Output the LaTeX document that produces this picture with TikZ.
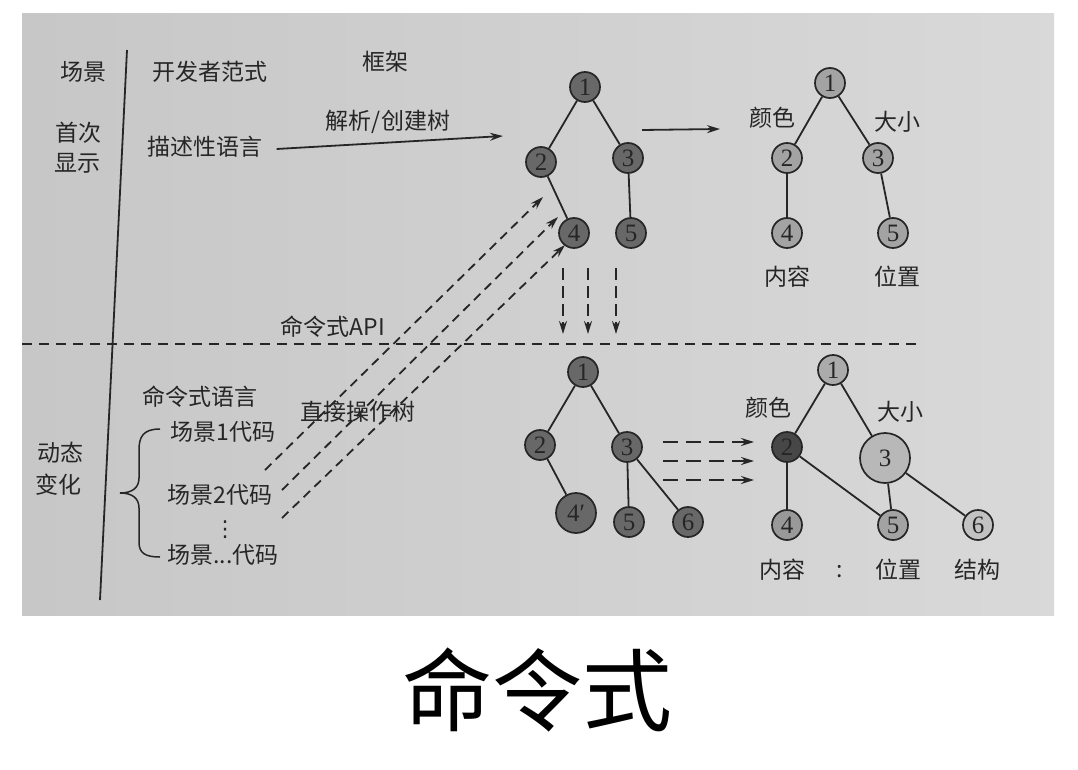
\documentclass[tikz,border=0pt]{standalone}
\usepackage{fontspec}
\newfontfamily\cjk{Noto Sans CJK SC}
\newfontfamily\dejavu{DejaVu Sans}
\newfontfamily\numf{Liberation Serif}
\usetikzlibrary{arrows.meta}
\definecolor{inkc}{HTML}{262626}
\definecolor{dkfill}{HTML}{686868}
\definecolor{ltfill}{HTML}{A3A3A3}
\begin{document}
\begin{tikzpicture}[x=1pt,y=-1pt,
  tn/.style={circle, draw=inkc, line width=1.7pt, minimum size=30pt, inner sep=0pt, font=\numf\fontsize{25}{25}\selectfont, text=inkc},
  dk/.style={tn, fill=dkfill},
  lt/.style={tn, fill=ltfill},
  lbl/.style={font=\cjk\fontsize{23}{23}\selectfont, text=inkc, inner sep=0pt},
  edge/.style={draw=inkc, line width=1.8pt},
  arr/.style={draw=inkc, line width=1.8pt, -{Stealth[length=13pt,width=8pt]}},
  darr/.style={arr, dash pattern=on 9pt off 6pt},
  harr/.style={arr, dash pattern=on 15pt off 8pt},
]
\useasboundingbox (0,0) rectangle (1078,770);
\fill[white] (0,0) rectangle (1078,770);
\shade[left color=black!22, right color=black!15] (22,14) rectangle (1054,615);

% frame lines
\coordinate (vtop) at (127,50);
\coordinate (vbot) at (100,600);
\draw[edge] (vtop) -- (vbot);
\coordinate (hl) at (22,344);
\coordinate (hr) at (923,344);
\draw[edge, dash pattern=on 10pt off 7pt] (hl) -- (hr);

% header labels
\node[lbl] (hscene) at (83,72) {场景};
\node[lbl] (hdev) at (210,72) {开发者范式};
\node[lbl] (hfw) at (385,62) {框架};
\node[lbl] (first1) at (78,133) {首次};
\node[lbl] (first2) at (77,163) {显示};
\node[lbl] (desc) at (205,147) {描述性语言};
\node[lbl] (parse) at (388,122) {解析/创建树};
\node[lbl] (api) at (333,327) {命令式API};
\node[lbl] (imp) at (200,397) {命令式语言};
\node[lbl] (direct) at (358,412) {直接操作树};
\node[lbl] (c1) at (223,432) {场景1代码};
\node[lbl] (c2) at (220,495) {场景2代码};
\node[font=\dejavu\fontsize{22}{22}\selectfont, text=inkc, inner sep=0pt] (vd) at (225,530) {⋮};
\node[lbl] (cn) at (223,555) {场景...代码};
\node[lbl] (dyn1) at (60,453) {动态};
\node[lbl] (dyn2) at (58,485) {变化};

% brace
\draw[edge, line width=1.5pt] (160,429) .. controls (143,429) and (139,437) .. (139,450) -- (139,478) .. controls (139,488) and (132,493) .. (120,493) .. controls (132,493) and (139,498) .. (139,508) -- (139,542) .. controls (139,553) and (145,557) .. (160,557);

% top-left tree
\node[dk] (t1) at (585,87) {1};
\node[dk] (t2) at (541,162) {2};
\node[dk] (t3) at (628,158) {3};
\node[dk] (t4) at (574,233) {4};
\node[dk] (t5) at (631,233) {5};
\draw[edge] (t1) -- (t2);
\draw[edge] (t1) -- (t3);
\draw[edge] (t2) -- (t4);
\draw[edge] (t3) -- (t5);

% top-right tree
\node[lt] (r1) at (830,83) {1};
\node[lt] (r2) at (787,158) {2};
\node[lt] (r3) at (878,158) {3};
\node[lt] (r4) at (787,233) {4};
\node[lt] (r5) at (893,233) {5};
\draw[edge] (r1) -- (r2);
\draw[edge] (r1) -- (r3);
\draw[edge] (r2) -- (r4);
\draw[edge] (r3) -- (r5);
\node[lbl] (rcol) at (772,118) {颜色};
\node[lbl] (rsize) at (897,122) {大小};
\node[lbl] (rcont) at (787,277) {内容};
\node[lbl] (rpos) at (897,277) {位置};

% bottom-left tree
\node[dk] (b1) at (583,372) {1};
\node[dk] (b2) at (540,445) {2};
\node[dk] (b3) at (627,447) {3};
\node[dk, minimum size=40pt] (b4) at (576,513) {4′};
\node[dk] (b5) at (629,522) {5};
\node[dk] (b6) at (688,522) {6};
\draw[edge] (b1) -- (b2);
\draw[edge] (b1) -- (b3);
\draw[edge] (b2) -- (b4);
\draw[edge] (b3) -- (b5);
\draw[edge] (b3) -- (b6);

% bottom-right tree
\node[tn, fill=black!33] (s1) at (833,370) {1};
\node[tn, fill=black!72] (s2) at (787,447) {2};
\node[tn, fill=black!28, minimum size=50pt] (s3) at (885,458) {3};
\node[tn, fill=black!40] (s4) at (787,525) {4};
\node[tn, fill=black!36] (s5) at (893,525) {5};
\node[tn, fill=black!24] (s6) at (978,525) {6};
\draw[edge] (s1) -- (s2);
\draw[edge] (s1) -- (s3);
\draw[edge] (s2) -- (s4);
\draw[edge] (s2) -- (s5);
\draw[edge] (s3) -- (s5);
\draw[edge] (s3) -- (s6);
\node[lbl] (scol) at (768,408) {颜色};
\node[lbl] (ssize) at (900,412) {大小};
\node[lbl] (scont) at (782,570) {内容};
\node[lbl] (sdots) at (840,572) {:};
\node[lbl] (spos) at (898,570) {位置};
\node[lbl] (sstr) at (977,570) {结构};

% arrows
\coordinate (pa) at (503,136);
\draw[arr] ([xshift=14pt,yshift=-2pt]desc.east) -- (pa);
\coordinate (ta) at (642,130);
\coordinate (tb) at (720,129);
\draw[arr] (ta) -- (tb);

\coordinate (da1) at (265,470);
\coordinate (db1) at (543,197);
\coordinate (da2) at (282,490);
\coordinate (db2) at (558,217);
\coordinate (da3) at (282,518);
\coordinate (db3) at (565,245);
\draw[darr] (da1) -- (db1);
\draw[darr] (da2) -- (db2);
\draw[darr] (da3) -- (db3);

\foreach \i/\x in {1/563,2/588,3/616}{
  \coordinate (va\i) at (\x,268);
  \coordinate (vb\i) at (\x,334);
  \draw[arr, dash pattern=on 12pt off 6pt] (va\i) -- (vb\i);
}
\foreach \i/\y in {1/442,2/461,3/480}{
  \coordinate (ha\i) at (663,\y);
  \coordinate (hb\i) at (754,\y);
  \draw[harr] (ha\i) -- (hb\i);
}

% title
\node[font=\cjk\fontsize{90}{90}\selectfont, inner sep=0pt] (title) at (537,690) {命令式};
\end{tikzpicture}
\end{document}
